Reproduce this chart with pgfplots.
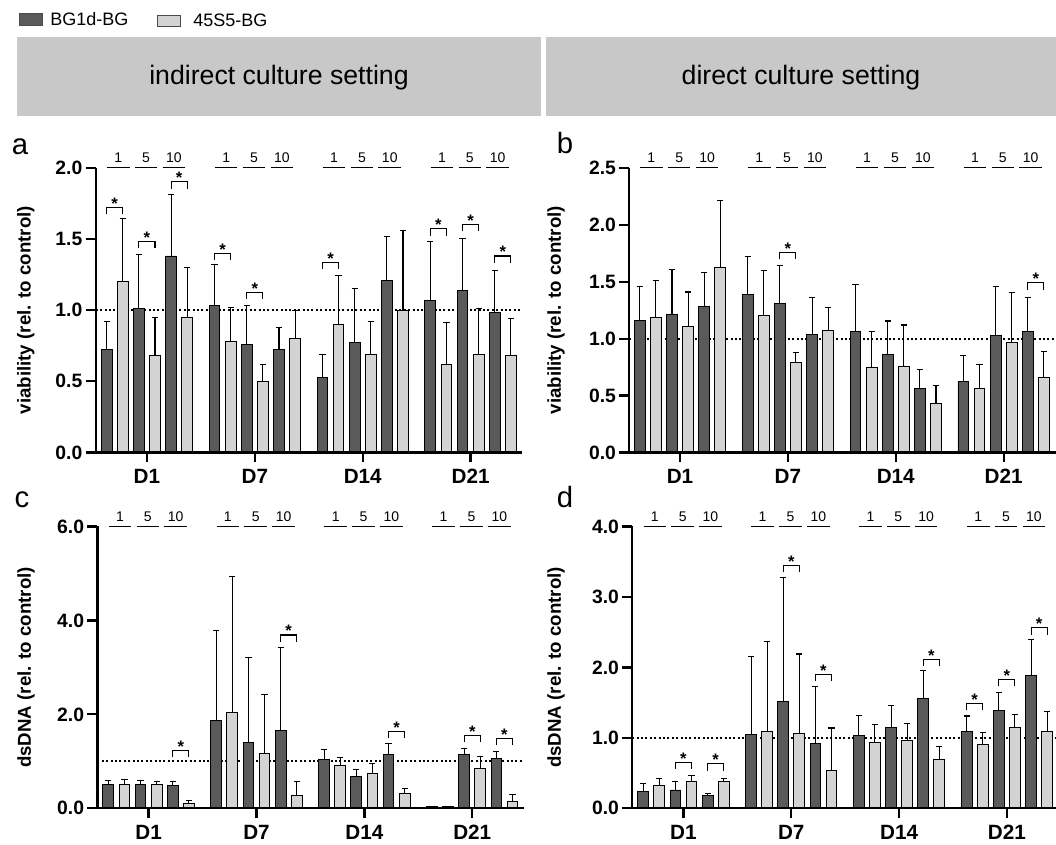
\documentclass[border=0pt]{standalone}
\usepackage{fontspec}
\setmainfont{Liberation Sans}
\usepackage{pgfplots}
\pgfplotsset{compat=1.18}
\definecolor{darkbar}{RGB}{90,90,90}
\definecolor{lightbar}{RGB}{211,211,211}
\definecolor{banner}{RGB}{200,200,200}
\newcommand{\hfont}{\fontsize{10.5}{11}\selectfont}
\newcommand{\sig}[2]{%
  \draw[line width=0.8pt] ([yshift=-5pt]axis cs:#1,#2) -- (axis cs:#1,#2) -- (axis cs:#1+1,#2) -- ([yshift=-5pt]axis cs:#1+1,#2);
  \node[font=\bfseries\fontsize{12.5}{12}\selectfont, anchor=base, inner sep=0pt] at ([yshift=-1.5pt]axis cs:#1+0.5,#2) {*};
}
\newcommand{\hdr}[2]{%
  \draw[line width=0.8pt] (axis cs:#1-2.48,#2) -- (axis cs:#1-1.08,#2);
  \draw[line width=0.8pt] (axis cs:#1-0.75,#2) -- (axis cs:#1+0.65,#2);
  \draw[line width=0.8pt] (axis cs:#1+0.98,#2) -- (axis cs:#1+2.38,#2);
  \node[font=\hfont, anchor=base, inner sep=0pt] at ([yshift=4pt]axis cs:#1-1.78,#2) {1};
  \node[font=\hfont, anchor=base, inner sep=0pt] at ([yshift=4pt]axis cs:#1-0.05,#2) {5};
  \node[font=\hfont, anchor=base, inner sep=0pt] at ([yshift=4pt]axis cs:#1+1.68,#2) {10};
}
\newcommand{\allhdr}[1]{\hdr{2.5}{#1}\hdr{9.2}{#1}\hdr{15.9}{#1}\hdr{22.6}{#1}}
\newcommand{\refline}{\draw[line width=1.5pt, dash pattern=on 1.5pt off 1.8pt] ({rel axis cs:0,0} |- {axis cs:0,1}) -- ({rel axis cs:1,0} |- {axis cs:0,1});}
\pgfplotsset{
  panel/.style={
    scale only axis, clip=false, anchor=south west,
    axis x line*=bottom, axis y line*=left,
    axis line style={line width=1.7pt},
    axis on top,
    ybar, bar width=0.67, bar shift=0pt,
    ymin=0, enlargelimits=false,
    xtick={2.5,9.2,15.9,22.6}, xticklabels={D1,D7,D14,D21},
    tick align=outside, major tick length=7.5pt,
    tick style={line width=1.7pt, black},
    minor tick num=0,
    xticklabel style={font=\bfseries\fontsize{15.5}{17}\selectfont, yshift=-1.5pt},
    yticklabel style={font=\bfseries\fontsize{14.5}{16}\selectfont, xshift=1pt},
    yticklabel={\pgfmathprintnumber[fixed,fixed zerofill,precision=1,assume math mode=true]{\tick}},
    ylabel style={font=\bfseries\fontsize{14}{16}\selectfont, anchor=center},
    error bars/y dir=plus, error bars/y explicit,
    error bars/error bar style={line width=0.8pt, black},
    error bars/error mark options={rotate=90, mark size=2.3pt, line width=0.8pt, black},
  },
  dk/.style={fill=darkbar, draw=black, line width=0.7pt},
  lt/.style={fill=lightbar, draw=black, line width=0.7pt},
}
\begin{document}
\begin{tikzpicture}
\useasboundingbox (0,0) rectangle (792pt,633.75pt);
\begin{scope}[x=0.75pt,y=-0.75pt,yshift=633.75pt]
  % legend
  \fill[darkbar, draw=black!70, line width=0.5pt] (19,13.5) rectangle (42,25);
  \node[anchor=west, inner sep=0pt, font=\fontsize{13.5}{14}\selectfont] at (50,19.5) {BG1d-BG};
  \fill[lightbar, draw=black!70, line width=0.5pt] (157,15) rectangle (180,26);
  \node[anchor=west, inner sep=0pt, font=\fontsize{13.5}{14}\selectfont] at (193,20.5) {45S5-BG};
  % banners
  \fill[banner] (17,37) rectangle (541,116);
  \fill[banner] (546,37) rectangle (1056,116);
  \node[font=\fontsize{20}{22}\selectfont] at (279,78) {indirect culture setting};
  \node[font=\fontsize{20}{22}\selectfont] at (801,78) {direct culture setting};
  % panel letters
  \node[anchor=base, font=\fontsize{22}{24}\selectfont, inner sep=0pt] at (20,155) {a};
  \node[anchor=base, font=\fontsize{22}{24}\selectfont, inner sep=0pt] at (565,154) {b};
  \node[anchor=base, font=\fontsize{22}{24}\selectfont, inner sep=0pt] at (22,508) {c};
  \node[anchor=base, font=\fontsize{22}{24}\selectfont, inner sep=0pt] at (565,508) {d};
\end{scope}

% ---------------- panel a ----------------
\begin{axis}[panel, at={(71.78pt,294.38pt)}, width=319.95pt, height=213.6pt,
  xmin=-0.68, xmax=25.81, ymax=2.0, ytick={0,0.5,1,1.5,2},
  ylabel={viability (rel. to control)}, ylabel style={at={(axis description cs:-0.164,0.5)}}]
\refline
\addplot[dk] table[x=x,y=y,y error=e] {
x y e
0 0.72 0.20
2 1.01 0.38
4 1.38 0.43
6.7 1.03 0.29
8.7 0.76 0.27
10.7 0.72 0.155
13.4 0.53 0.16
15.4 0.77 0.38
17.4 1.21 0.31
20.1 1.07 0.41
22.1 1.14 0.36
24.1 0.98 0.30
};
\addplot[lt] table[x=x,y=y,y error=e] {
x y e
1 1.20 0.44
3 0.68 0.27
5 0.95 0.35
7.7 0.78 0.24
9.7 0.50 0.12
11.7 0.80 0.20
14.4 0.90 0.345
16.4 0.69 0.23
18.4 1.00 0.56
21.1 0.62 0.29
23.1 0.69 0.32
25.1 0.68 0.26
};
\sig{0}{1.72}\sig{2}{1.48}\sig{4}{1.90}\sig{6.7}{1.40}\sig{8.7}{1.125}
\sig{13.4}{1.335}\sig{20.1}{1.57}\sig{22.1}{1.60}\sig{24.1}{1.38}
\allhdr{2.0}
\end{axis}

% ---------------- panel b ----------------
\begin{axis}[panel, at={(471.98pt,294.38pt)}, width=323.0pt, height=213.4pt,
  xmin=-0.65, xmax=26.1, ymax=2.5, ytick={0,0.5,1,1.5,2,2.5},
  ylabel={viability (rel. to control)}, ylabel style={at={(axis description cs:-0.170,0.5)}}]
\refline
\addplot[dk] table[x=x,y=y,y error=e] {
x y e
0 1.16 0.30
2 1.21 0.40
4 1.28 0.30
6.7 1.39 0.33
8.7 1.31 0.33
10.7 1.04 0.32
13.4 1.065 0.415
15.4 0.865 0.29
17.4 0.56 0.17
20.1 0.625 0.225
22.1 1.03 0.43
24.1 1.065 0.295
};
\addplot[lt] table[x=x,y=y,y error=e] {
x y e
1 1.19 0.32
3 1.11 0.30
5 1.63 0.58
7.7 1.205 0.395
9.7 0.795 0.085
11.7 1.075 0.195
14.4 0.75 0.315
16.4 0.76 0.36
18.4 0.43 0.16
21.1 0.56 0.21
23.1 0.965 0.44
25.1 0.66 0.23
};
\sig{8.7}{1.755}\sig{24.1}{1.49}
\allhdr{2.5}
\end{axis}

% ---------------- panel c ----------------
\begin{axis}[panel, at={(73.05pt,27.53pt)}, width=319.9pt, height=211.35pt,
  xmin=-0.68, xmax=25.81, ymax=6.0, ytick={0,2,4,6},
  ylabel={dsDNA (rel. to control)}, ylabel style={at={(axis description cs:-0.167,0.5)}}]
\refline
\addplot[dk] table[x=x,y=y,y error=e] {
x y e
0 0.50 0.10
2 0.51 0.08
4 0.49 0.085
6.7 1.875 1.915
8.7 1.40 1.81
10.7 1.655 1.775
13.4 1.03 0.22
15.4 0.685 0.145
17.4 1.155 0.225
20.1 0.03 0.005
22.1 1.155 0.115
24.1 1.07 0.13
};
\addplot[lt] table[x=x,y=y,y error=e] {
x y e
1 0.50 0.11
3 0.50 0.075
5 0.105 0.06
7.7 2.03 2.90
9.7 1.16 1.26
11.7 0.27 0.31
14.4 0.92 0.17
16.4 0.745 0.21
18.4 0.32 0.105
21.1 0.03 0.005
23.1 0.85 0.26
25.1 0.15 0.135
};
\sig{4}{1.225}\sig{10.7}{3.69}\sig{17.4}{1.63}\sig{22.1}{1.55}\sig{24.1}{1.48}
\allhdr{6.0}
\end{axis}

% ---------------- panel d ----------------
\begin{axis}[panel, at={(474.2pt,27.53pt)}, width=320.8pt, height=211.35pt,
  xmin=-0.68, xmax=25.9, ymax=4.0, ytick={0,1,2,3,4},
  ylabel={dsDNA (rel. to control)}, ylabel style={at={(axis description cs:-0.178,0.5)}}]
\refline
\addplot[dk] table[x=x,y=y,y error=e] {
x y e
0 0.235 0.12
2 0.26 0.12
4 0.175 0.035
6.7 1.05 1.11
8.7 1.515 1.765
10.7 0.925 0.805
13.4 1.035 0.285
15.4 1.145 0.315
17.4 1.56 0.39
20.1 1.085 0.225
22.1 1.39 0.255
24.1 1.88 0.515
};
\addplot[lt] table[x=x,y=y,y error=e] {
x y e
1 0.33 0.095
3 0.375 0.085
5 0.385 0.04
7.7 1.09 1.28
9.7 1.06 1.13
11.7 0.53 0.61
14.4 0.935 0.25
16.4 0.96 0.25
18.4 0.69 0.19
21.1 0.91 0.16
23.1 1.15 0.185
25.1 1.085 0.29
};
\sig{2}{0.655}\sig{4}{0.63}\sig{8.7}{3.45}\sig{10.7}{1.905}\sig{17.4}{2.11}
\sig{20.1}{1.485}\sig{22.1}{1.83}\sig{24.1}{2.56}
\allhdr{4.0}
\end{axis}
\end{tikzpicture}
\end{document}
